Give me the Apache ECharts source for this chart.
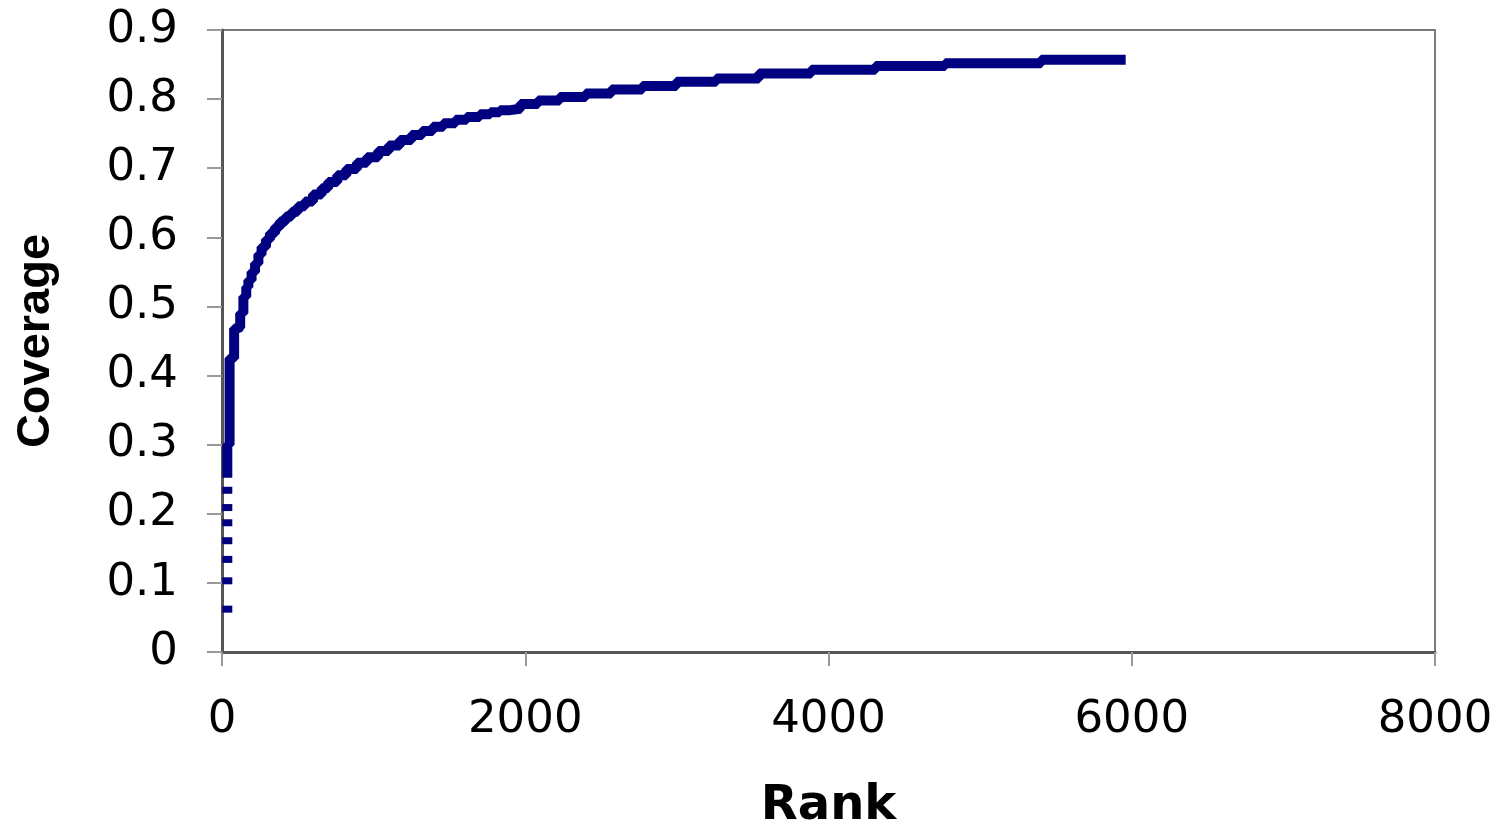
<!DOCTYPE html>
<html>
<head>
<meta charset="utf-8">
<script src="https://cdn.jsdelivr.net/npm/echarts@6/dist/echarts.min.js"></script>
<style>html,body{margin:0;padding:0;background:#fff;}#c{width:1505px;height:824px;}</style>
</head>
<body>
<div id="c"></div>
<script>
// Isolated low-rank points (drawn as dashes)
const lowRanks = [35, 35, 35, 35, 35, 35, 35];
const lowCoverage = [0.062, 0.103, 0.134, 0.161, 0.187, 0.209, 0.234];

// Step curve: rank and coverage
const stepRanks = [35, 35, 50, 50, 80, 80, 100, 120, 141, 160, 174, 195, 218, 240, 261, 290, 316, 350, 382, 420, 459, 500, 547, 600, 657, 700, 760, 820, 890, 956, 1030, 1100, 1173, 1250, 1320, 1390, 1460, 1540, 1614, 1700, 1770, 1832, 1900, 1968, 2084, 2227, 2399, 2568, 2772, 2997, 3260, 3541, 3886, 4310, 4769, 5402, 5960];
const stepCoverage = [0.252, 0.300, 0.300, 0.425, 0.425, 0.468, 0.470, 0.490, 0.514, 0.528, 0.538, 0.550, 0.562, 0.575, 0.586, 0.597, 0.606, 0.615, 0.623, 0.630, 0.637, 0.645, 0.652, 0.662, 0.671, 0.680, 0.690, 0.699, 0.708, 0.716, 0.725, 0.733, 0.741, 0.748, 0.754, 0.760, 0.765, 0.770, 0.774, 0.778, 0.781, 0.784, 0.786, 0.793, 0.798, 0.803, 0.808, 0.814, 0.819, 0.825, 0.830, 0.837, 0.8425, 0.848, 0.852, 0.857, 0.857];

const xTicks = {min: 0, max: 8000, interval: 2000};
const yTicks = {min: 0, max: 0.9, interval: 0.1};
const xTitle = 'Rank';
const yTitle = 'Coverage';

const chart = echarts.init(document.getElementById('c'), null, {renderer: 'canvas'});
const navy = '#000080';
chart.setOption({
  animation: false,
  backgroundColor: '#ffffff',
  grid: {left: 222, right: 70, top: 30, bottom: 172, containLabel: false, outerBoundsMode: 'none',
    show: true, borderColor: '#7a7a7a', borderWidth: 2, backgroundColor: 'transparent'},
  xAxis: {
    type: 'value', min: xTicks.min, max: xTicks.max, interval: xTicks.interval,
    name: xTitle, nameLocation: 'middle', nameGap: 131,
    nameTextStyle: {fontFamily: 'DejaVu Sans', fontWeight: 'bold', fontSize: 48, color: '#000'},
    axisLine: {show: true, lineStyle: {color: '#555', width: 3}},
    axisTick: {show: true, inside: false, length: 14, lineStyle: {color: '#999', width: 2}},
    axisLabel: {fontFamily: 'DejaVu Sans', fontSize: 45, color: '#000', margin: 46,
      formatter: v => String(Math.round(v))},
    splitLine: {show: false}
  },
  yAxis: {
    type: 'value', min: yTicks.min, max: yTicks.max, interval: yTicks.interval,
    name: yTitle, nameLocation: 'middle', nameGap: 162,
    nameTextStyle: {fontFamily: 'Liberation Sans', fontWeight: 'bold', fontSize: 47, color: '#000'},
    axisLine: {show: true, lineStyle: {color: '#555', width: 3}},
    axisTick: {show: true, inside: false, length: 15, lineStyle: {color: '#999', width: 2}},
    axisLabel: {fontFamily: 'DejaVu Sans', fontSize: 45, color: '#000', margin: 44,
      formatter: v => (Math.round(v * 10) / 10).toString()},
    splitLine: {show: false}
  },
  series: [
    {
      type: 'line', step: 'end', showSymbol: false, symbol: 'none',
      data: stepRanks.map((r, i) => [r, stepCoverage[i]]),
      lineStyle: {color: navy, width: 10},
      itemStyle: {color: navy}
    },
    {
      type: 'scatter', symbol: 'rect', symbolSize: [10, 7],
      data: lowRanks.map((r, i) => [r, lowCoverage[i]]),
      itemStyle: {color: navy, opacity: 1}
    }
  ]
});
</script>
</body>
</html>
